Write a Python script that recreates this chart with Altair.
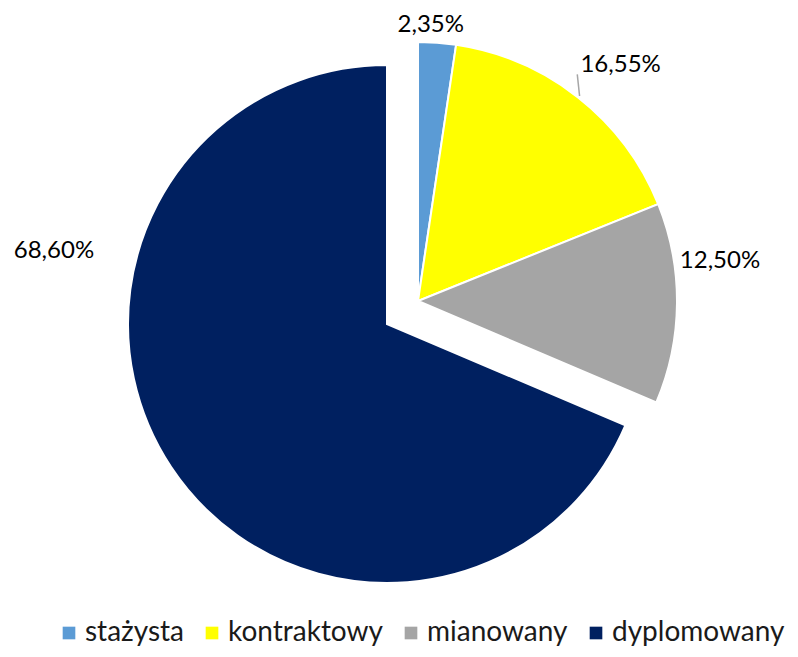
import altair as alt
import pandas as pd

categories = ["stażysta", "kontraktowy", "mianowany", "dyplomowany"]
values = [2.35, 16.55, 12.50, 68.60]
labels = ["2,35%", "16,55%", "12,50%", "68,60%"]
colors = ["#5B9BD5", "#FFFF00", "#A5A5A5", "#002060"]

df = pd.DataFrame({"kat": categories, "val": values, "lab": labels,
                   "ord": list(range(len(categories)))})

FONT = "Lato"
W, H = 782, 641
R = 259
CX, CY = 19, -27.5          # shift of pie centre from plot centre
EX, EY = -31, 23            # explosion of the dark slice
LR = 295                    # label radius
PX, PY = W / 2 + CX, H / 2 + CY   # pie centre in chart pixels

theta_scale = alt.Scale(domain=[0, 100], range=[0, 6.283185307179586])
color_scale = alt.Scale(domain=categories, range=colors)

base = alt.Chart(df).transform_window(
    end="sum(val)", sort=[alt.SortField("ord")], frame=[None, 0]
).transform_calculate(
    start="datum.end - datum.val",
    mid="datum.end - datum.val / 2",
)

legend = alt.Legend(
    title=None, orient="none", direction="horizontal",
    legendX=47, legendY=611, symbolType="square", symbolSize=160,
    symbolStrokeWidth=0, labelFont=FONT, labelFontSize=28,
    labelColor="#1a1a1a", labelOffset=2, columnPadding=14, padding=0,
    labelLimit=300,
)

def arcs(filt, dx, dy, show_legend):
    return base.transform_filter(filt).mark_arc(
        outerRadius=R, stroke="white", strokeWidth=2,
        xOffset=CX + dx, yOffset=CY + dy,
    ).encode(
        theta=alt.Theta("start:Q", scale=theta_scale),
        theta2="end:Q",
        color=alt.Color("kat:N", scale=color_scale,
                        legend=legend if show_legend else None,
                        sort=categories),
    )

small = "datum.kat != 'dyplomowany'"
big = "datum.kat == 'dyplomowany'"

label_nudge = {
    "stażysta": (-9, 18),
    "kontraktowy": (20, -4),
    "mianowany": (7, -43),
    "dyplomowany": (-87, -236),
}

def text_layer(cat):
    ddx, ddy = label_nudge[cat]
    ox, oy = (EX, EY) if cat == "dyplomowany" else (0, 0)
    return base.transform_filter(alt.datum.kat == cat).mark_text(
        radius=LR, font=FONT, fontSize=24, color="#000000",
        align="center", baseline="middle",
        xOffset=CX + ox, yOffset=CY + oy, dx=ddx, dy=ddy,
    ).encode(
        theta=alt.Theta("mid:Q", scale=theta_scale),
        text="lab:N",
    )

# leader line for the 16,55% label, derived from the slice's mid angle
leader = base.transform_filter(alt.datum.kat == "kontraktowy").transform_calculate(
    a="datum.mid / 100 * 2 * PI",
).transform_calculate(
    lx1=f"{PX} + 261 * sin(datum.a)",
    ly1=f"{PY} - 261 * cos(datum.a)",
    lx2=f"{PX} + 277 * sin(datum.a - 0.055)",
    ly2=f"{PY} - 277 * cos(datum.a - 0.055)",
).mark_rule(color="#A6A6A6", strokeWidth=1.5).encode(
    x=alt.X("lx1:Q", scale=None),
    y=alt.Y("ly1:Q", scale=None),
    x2="lx2:Q",
    y2="ly2:Q",
)

chart = alt.layer(
    arcs(small, 0, 0, True),
    arcs(big, EX, EY, True),
    leader,
    *[text_layer(c) for c in categories],
).properties(
    width=W, height=H, padding=0,
    autosize=alt.AutoSizeParams(type="none"),
).configure_view(stroke=None)

chart.save("out.html", embed_options={"renderer": "svg", "actions": False})
